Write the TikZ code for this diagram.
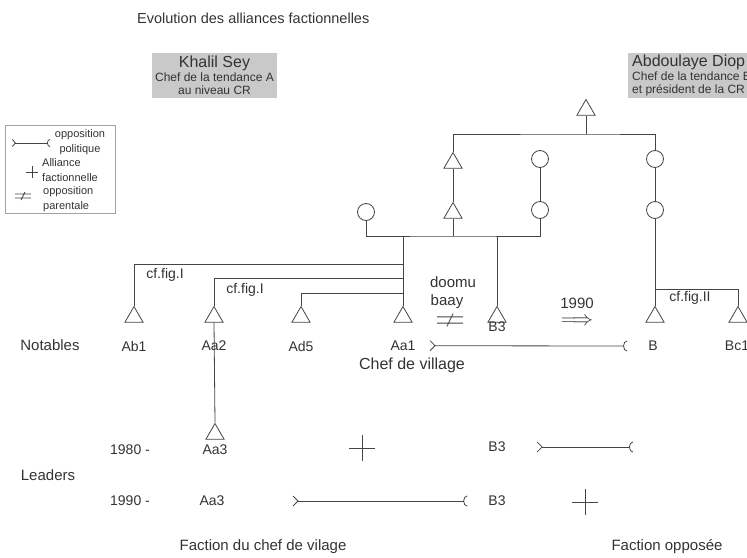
\documentclass[tikz,border=0pt]{standalone}
\usepackage{fontspec}
\setmainfont{Liberation Sans}
\usepackage{xcolor}
\definecolor{inkgrey}{rgb}{0.27,0.27,0.27}
\definecolor{textgrey}{rgb}{0.2,0.2,0.2}
\definecolor{boxgrey}{rgb}{0.79,0.79,0.79}
\usetikzlibrary{arrows.meta,positioning,shapes.geometric}
\tikzset{
  male/.style={regular polygon,regular polygon sides=3,draw=inkgrey,thick,fill=white,minimum size=21pt,inner sep=0pt},
  female/.style={circle,draw=inkgrey,thick,fill=white,minimum size=17pt,inner sep=0pt},
  kin/.style={draw=inkgrey,thick},
  opp/.style={kin,{Straight Barb[reversed,length=5pt,width=10pt]}-{Arc Barb[reversed,length=4pt,width=11pt]}},
  oppsmall/.style={kin,{Straight Barb[reversed,length=3pt,width=7pt]}-{Arc Barb[reversed,length=3pt,width=8pt]}},
  ally/.style={minimum width=#1,minimum height=#1,inner sep=0pt,
    path picture={\draw[inkgrey,thick] (path picture bounding box.north) -- (path picture bounding box.south)
      (path picture bounding box.west) -- (path picture bounding box.east);}},
  ally/.default=26pt,
  neq/.style={minimum width=#1,minimum height=0.5*#1,inner sep=0pt,
    path picture={\draw[inkgrey,thick]
      ([yshift=0.12*#1]path picture bounding box.west) -- ([yshift=0.12*#1]path picture bounding box.east)
      ([yshift=-0.12*#1]path picture bounding box.west) -- ([yshift=-0.12*#1]path picture bounding box.east)
      ([xshift=-0.12*#1]path picture bounding box.south) -- ([xshift=0.12*#1]path picture bounding box.north);}},
  neq/.default=26pt,
  lbl/.style={font=\fontsize{14}{16}\selectfont,text=textgrey,inner sep=0pt},
  big/.style={font=\fontsize{15}{17}\selectfont,text=textgrey,inner sep=0pt},
  tiny/.style={font=\fontsize{11}{15}\selectfont,text=textgrey,inner sep=0pt},
  headbox/.style={fill=boxgrey,inner sep=0pt,minimum height=45pt,text=textgrey,font=\fontsize{12}{13}\selectfont}
}

\begin{document}
\begin{tikzpicture}[x=1pt,y=-1pt]
  \useasboundingbox (0,0) rectangle (747,557);

  % titre et chefs de tendance
  \node[big,anchor=west,font=\fontsize{14.5}{17}\selectfont] (title) at (137,18) {Evolution des alliances factionnelles};
  \node[headbox,minimum width=125pt,align=center] (khalil) at (214.5,75.5)
    {{\fontsize{16}{18}\selectfont Khalil Sey}\\[1pt]Chef de la tendance A\\au niveau CR};
  \node[headbox,anchor=west,inner xsep=4pt,align=left] (diop) at (628,75.5)
    {{\fontsize{16}{18}\selectfont Abdoulaye Diop}\\[1pt]Chef de la tendance B\\et président de la CR};

  % legende
  \node[draw=inkgrey!50,minimum width=110pt,minimum height=88pt] (legend) at (60,169) {};
  \coordinate (lo1) at (12,143);
  \coordinate (lo2) at (50,143);
  \draw[oppsmall] (lo1) -- (lo2);
  \node[tiny,align=center] (lopp) at (80,142.5) {opposition\\politique};
  \node[ally=12pt] (lplus) at (32,172) {};
  \node[tiny,anchor=west,align=left] (lally) at (42,170) {Alliance\\factionnelle};
  \node[neq=16pt] (lneq) at (23,196) {};
  \node[tiny,anchor=west,align=left] (lpar) at (43,199.5) {opposition\\parentale};

  % genealogie
  \node[male] (ego) at (586,110) {};
  \node[male] (m1) at (453,163) {};
  \node[male] (m2) at (453,213) {};
  \node[female] (f1) at (540,159) {};
  \node[female] (f2) at (540,210) {};
  \node[female] (f3) at (655,159) {};
  \node[female] (f4) at (655,210) {};
  \node[female] (f0) at (366,212) {};
  \coordinate (top) at (586,134);
  \coordinate (sib) at (453,236);
  \draw[kin] (ego.south) -- (top);
  \draw[kin] (m1.north) |- (top) -| (f3.north);
  \draw[kin] (m1.south) -- (m2.north);
  \draw[kin] (f1.south) -- (f2.north);
  \draw[kin] (f3.south) -- (f4.north);
  \draw[kin] (f0.south) |- (sib) -| (f2.south);
  \draw[kin] (m2.south) -- (sib);

  % notables
  \node[male] (Ab1) at (134,317) {};
  \node[male] (Aa2) at (214,317) {};
  \node[male] (Ad5) at (301,317) {};
  \node[male] (Aa1) at (403,317) {};
  \node[male] (B3) at (497,317) {};
  \node[male] (B) at (655,317) {};
  \node[male] (Bc1) at (738,317) {};
  \node[male] (Aa3) at (215,434) {};
  \coordinate (j1) at (403,264);
  \coordinate (j2) at (403,278);
  \coordinate (j3) at (403,293);
  \coordinate (jB) at (655,289);
  \draw[kin] (Aa1.north) -- (Aa1.north |- sib);
  \draw[kin] (B3.north) -- (B3.north |- sib);
  \draw[kin] (Ab1.north) |- (j1);
  \draw[kin] (Aa2.north) |- (j2);
  \draw[kin] (Ad5.north) |- (j3);
  \draw[kin] (Aa2.south) -- (Aa3.north);
  \draw[kin] (f4.south) -- (B.north);
  \draw[kin] (jB) -| (Bc1.north);

  \node[lbl] (cf1) at (165,275) {cf.fig.I};
  \node[lbl] (cf2) at (245,290) {cf.fig.I};
  \node[lbl] (cf3) at (690,298) {cf.fig.II};

  \node[lbl,below=18pt of Ab1.south] (lAb1) {Ab1};
  \node[lbl,below=18pt of Aa2.south] (lAa2) {Aa2};
  \node[lbl,below=18pt of Ad5.south] (lAd5) {Ad5};
  \node[lbl,below=18pt of Aa1.south] (lAa1) {Aa1};
  \node[lbl] (lB3) at (497,327) {B3};
  \node[lbl] (lB) at (653,346) {B};
  \node[lbl] (lBc1) at (737,346) {Bc1};
  \node[big,font=\fontsize{16}{18}\selectfont] (chef) at (412,365) {Chef de village};
  \draw[opp] ([xshift=14pt]lAa1.east) -- ([xshift=-21pt]lB.west);

  \node[big] (doomu) at (453,282) {doomu};
  \node[big] (baay) at (447,302) {baay};
  \node[neq] (pneq) at (450,320) {};
  \node[big] (an90) at (577,303) {1990};
  \node[text=textgrey,inner sep=0pt,font=\fontsize{20}{20}\selectfont] (imp) at (577,322) {$\Longrightarrow$};

  % leaders
  \node[big] (notables) at (50,345) {Notables};
  \node[big] (leaders) at (48,475) {Leaders};
  \node[lbl] (y80) at (130,450) {1980 -};
  \node[lbl] (y90) at (130,501) {1990 -};
  \node[lbl] (aa3a) at (215,450) {Aa3};
  \node[lbl] (aa3b) at (212,501) {Aa3};
  \node[lbl] (b3a) at (497,447) {B3};
  \node[lbl] (b3b) at (497,501) {B3};
  \coordinate (e80) at (633,447);
  \node[ally] (plus80) at (362,448) {};
  \node[ally] (plus90) at (585,502) {};
  \draw[opp] ([xshift=31pt]b3a.east) -- (e80);
  \draw[opp] ([xshift=68pt]aa3b.east) -- ([xshift=-21pt]b3b.west);

  \node[big] (factA) at (263,547) {Faction du chef de vilage};
  \node[big] (factB) at (667,547) {Faction opposée};
\end{tikzpicture}
\end{document}
